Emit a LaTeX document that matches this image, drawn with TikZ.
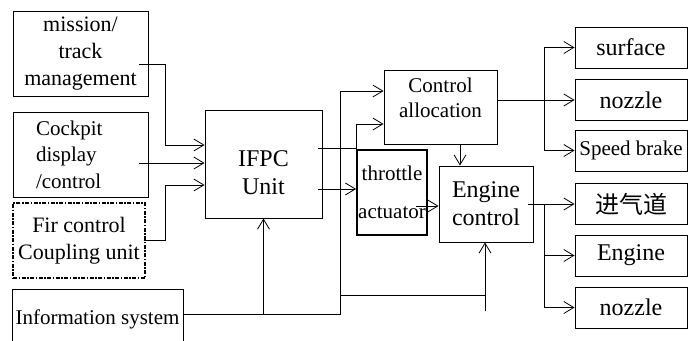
\documentclass[tikz,border=0pt]{standalone}
\usepackage{fontspec}
\setmainfont{Liberation Serif}
\newfontfamily\cjkfont{Noto Sans CJK SC}
\usetikzlibrary{positioning, calc, arrows.meta}

\begin{document}
\begin{tikzpicture}[
  x=1pt, y=-1pt,
  blk/.style={draw, line width=0.9pt, inner sep=0pt, align=center,
    font=\fontsize{21}{26.5}\selectfont},
  big/.style={font=\fontsize{24}{28}\selectfont},
  wide/.style={font=\fontsize{22}{27}\selectfont},
  txt/.style={inner sep=0pt, align=center},
  actbox/.style={blk, big, minimum width=112pt, minimum height=41pt},
  flow/.style={-{Straight Barb[length=10pt,width=12pt]}, line width=0.8pt},
  wire/.style={line width=0.8pt}
]
  \useasboundingbox (0,0) rectangle (688,340);

  % inputs on the left
  \node[blk, wide, minimum width=135pt, minimum height=85pt] (mission) at (80.5,53.5) {mission/\\track\\management};
  \node[blk, minimum width=135pt, minimum height=85pt, text width=89pt, align=left] (cockpit) at (80.5,154.5) {Cockpit\\display\\/control};
  \node[blk, wide, minimum width=132pt, minimum height=75pt, line width=1.2pt,
    dash pattern=on 4pt off 1.5pt on 1.5pt off 1.5pt] (fir) at (79,240.5) {Fir control\\Coupling unit};
  \node[blk, minimum width=171pt, minimum height=60pt] (info) at (97.5,319) {Information system};

  % the IFPC unit and what it drives
  \node[blk, minimum width=117pt, minimum height=108pt] (ifpc) at (263.5,164) {};
  \node[txt, big] (ifpctxt) at ([yshift=-9pt]ifpc.center) {IFPC\\Unit};
  \node[blk, minimum width=113pt, minimum height=74pt] (alloc) at (440.5,107) {};
  \node[txt, font=\fontsize{21}{25}\selectfont] (alloctxt) at ([yshift=9pt]alloc.center) {Control\\allocation};
  \node[blk, line width=1.8pt, minimum width=70pt, minimum height=85pt,
    font=\fontsize{21}{38}\selectfont] (thr) at (392,192.5) {throttle\\actuator};
  \node[blk, big, minimum width=94pt, minimum height=76pt] (eng) at (486,204) {Engine\\control};

  % actuators on the right
  \node[actbox] (surf) at (631,47.5) {surface};
  \node[actbox] (nozA) at (631,100) {nozzle};
  \node[actbox, font=\fontsize{21}{26}\selectfont] (brake) at (631,150.5) {Speed brake};
  \node[actbox] (inlet) at (631,204) {\cjkfont 进气道};
  \node[actbox] (engb) at (631,255.5) {Engine};
  \node[actbox] (nozB) at (631,307.5) {nozzle};

  % inputs into the IFPC unit
  \draw[flow] ([xshift=-9pt,yshift=-10.5pt]mission.east) -| ([xshift=-39pt,yshift=19pt]ifpc.west) -- ([yshift=19pt]ifpc.west);
  \draw[flow] ([xshift=-9pt,yshift=-8.5pt]cockpit.east) -- ([yshift=1pt]ifpc.west);
  \draw[flow] ([xshift=-2pt]fir.east) -| ([xshift=-39pt,yshift=-21pt]ifpc.west) -- ([yshift=-21pt]ifpc.west);

  % information bus
  \coordinate (bus) at ([yshift=5pt]info.east);
  \coordinate (riser) at ([xshift=-43pt,yshift=16pt]alloc.west);
  \coordinate (engin) at ([xshift=-1pt]eng.south);
  \coordinate (tap) at ([yshift=-53pt]engin);
  \coordinate (stub) at ([yshift=-69pt]engin);
  \draw[flow] (bus) -| (riser) -- ([yshift=16pt]alloc.west);
  \draw[flow] (ifpc.south |- bus) -- (ifpc.south);
  \draw[wire] (riser |- tap) -- (tap);
  \draw[flow] (stub) -- (engin);

  % IFPC outputs
  \draw[flow] ([xshift=-4pt,yshift=16pt]ifpc.east) -| ([xshift=-27pt,yshift=-17pt]alloc.west) -- ([yshift=-17pt]alloc.west);
  \draw[flow] ([xshift=-4pt,yshift=-25pt]ifpc.east) -- ([yshift=3.5pt]thr.west);
  \draw[flow] ([xshift=-12pt,yshift=-13.5pt]thr.east) -- ([yshift=-2pt]eng.west);
  \draw[flow] ([xshift=19.5pt]alloc.south) -- ([xshift=-26pt]eng.north);

  % fan out to the actuators
  \coordinate (fork1) at ([xshift=-30pt]nozA.west);
  \coordinate (fork2) at ([xshift=-30pt]inlet.west);
  \draw[flow] ([yshift=7pt]alloc.east) -- (nozA.west);
  \draw[flow] (fork1) |- (surf.west);
  \draw[flow] (fork1) |- (brake.west);
  \draw[flow] ([xshift=-5pt]eng.east) -- (inlet.west);
  \draw[flow] (fork2) |- (engb.west);
  \draw[flow] (fork2) |- (nozB.west);
\end{tikzpicture}
\end{document}
